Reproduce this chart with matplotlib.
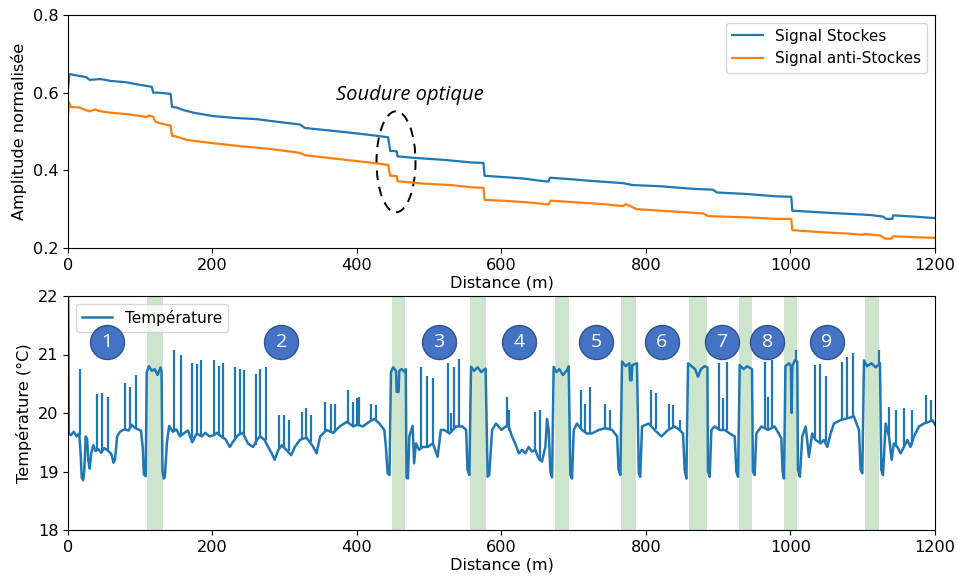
import matplotlib
matplotlib.use("Agg")
import matplotlib.pyplot as plt
from matplotlib.patches import Ellipse
import numpy as np

# ---------------- data ----------------
dist_ticks = [0, 200, 400, 600, 800, 1000, 1200]

stokes_d = [0, 2, 10, 25, 30, 45, 60, 80, 100, 116, 118, 125, 142, 144, 150, 160, 175,
            200, 230, 260, 290, 321, 328, 360, 400, 427, 443, 446, 455, 456, 480, 520,
            560, 575, 576.5, 600, 630, 650, 665, 667, 690, 730, 768, 782, 820, 860, 893,
            898, 940, 980, 1001, 1002.5, 1040, 1080, 1110, 1128, 1132, 1141, 1142, 1170, 1200]
stokes_v = [0.61, 0.648, 0.645, 0.64, 0.633, 0.635, 0.630, 0.627, 0.62, 0.615, 0.60, 0.600,
            0.597, 0.563, 0.562, 0.555, 0.548, 0.540, 0.535, 0.532, 0.525, 0.518, 0.509,
            0.503, 0.495, 0.489, 0.485, 0.450, 0.449, 0.436, 0.432, 0.427, 0.420, 0.419,
            0.386, 0.383, 0.379, 0.374, 0.371, 0.381, 0.378, 0.372, 0.367, 0.362, 0.359,
            0.353, 0.350, 0.343, 0.339, 0.333, 0.332, 0.296, 0.292, 0.288, 0.285, 0.281,
            0.275, 0.275, 0.284, 0.281, 0.277]

anti_d = [0, 1.5, 4, 15, 25, 30, 38, 42, 60, 80, 100, 109, 112, 118, 121, 130, 142, 144,
          150, 165, 200, 240, 280, 321, 328, 370, 418, 443, 446, 455, 456, 490, 530, 560,
          575, 576.5, 600, 640, 665, 668, 700, 740, 768, 772, 787, 830, 879, 886, 940,
          980, 1001, 1002.5, 1040, 1080, 1100, 1103, 1124, 1131, 1140, 1142, 1170, 1200]
anti_v = [0.543, 0.575, 0.563, 0.562, 0.555, 0.552, 0.557, 0.553, 0.548, 0.545, 0.54,
          0.537, 0.541, 0.538, 0.525, 0.52, 0.515, 0.489, 0.487, 0.478, 0.470, 0.462,
          0.455, 0.445, 0.439, 0.430, 0.42, 0.414, 0.386, 0.385, 0.372, 0.366, 0.362,
          0.356, 0.355, 0.324, 0.322, 0.317, 0.312, 0.322, 0.318, 0.313, 0.308, 0.313,
          0.300, 0.295, 0.289, 0.282, 0.279, 0.275, 0.275, 0.246, 0.241, 0.237, 0.234,
          0.236, 0.232, 0.224, 0.224, 0.230, 0.228, 0.226]

temp_d = [0, 1.2, 4, 8, 12, 15.5, 17.5, 19, 21, 22.5, 24.5, 26.5, 28, 30, 32, 35, 38, 42,
          46, 50, 55, 60, 63, 65, 68, 72, 78, 84, 88, 92, 97, 101, 103.5, 105, 107.5, 109,
          112, 116, 120, 124, 128, 129.5, 130.8, 132.5, 134, 137, 140, 145, 150, 155, 160,
          166, 172, 178, 185, 190, 196, 202,
          206, 212, 218, 224, 228, 235, 242, 249, 256, 262, 266, 272, 277, 282, 286, 291,
          296, 302, 309, 314, 321, 330, 339, 344, 349, 358, 367, 376, 386, 395, 400,
          408, 417, 424, 431, 437.8, 440, 442.4, 445, 447, 450, 454, 455, 457.5, 458.5,
          462, 466, 467.5, 468.5, 470.5, 472.4, 477, 479, 481.6, 486, 491, 498, 505, 511.6,
          516, 521, 528, 537, 546, 551, 553, 555.5, 557.8, 562, 567, 572, 578, 580.8, 583,
          587, 592.4, 600,
          606, 610, 614.5, 619, 624, 628.4, 633, 637.6, 642, 646.8, 651.4, 656, 660.7, 663,
          665.3, 667.6, 670, 672.2, 676, 680, 685, 690, 693, 695.3, 697.6, 700, 704.5,
          711.4, 718, 725, 734.5, 743.7, 753, 760, 762, 764.5, 766.8, 772, 777, 778, 780,
          781, 787.5, 790, 792, 794.5, 800,
          803.7, 812, 821.3, 830.5, 839.7, 846.6, 851.2, 853.5, 855.9, 858.2, 863, 868,
          872, 876, 881, 885, 885.8, 888.2, 890.5, 895, 902, 909, 915.8, 922.8, 925, 927.4,
          929.7, 935, 940, 946.7, 948, 950.4, 952.7, 959.7, 968.9, 978, 987.3, 989, 991,
          993, 998, 1000.5, 1001.5, 1002.5, 1006,
          1009.4, 1010.3, 1013, 1016.3, 1021, 1025.5, 1030, 1034.8, 1041.7, 1046, 1051,
          1055.5, 1060.2, 1069.4, 1078.6, 1087.8, 1094.8, 1097, 1099.4, 1101.7, 1106, 1112,
          1118, 1123.8, 1125.7, 1128, 1131.7, 1136.3, 1140, 1143, 1147.8, 1152.4, 1157,
          1161.7, 1166, 1170.9, 1177.8, 1184.7, 1191.7, 1196.3, 1200]
temp_v = [23.0, 19.65, 19.62, 19.68, 19.6, 19.65, 19.3, 18.9, 18.85, 19.0, 19.6, 19.55, 19.2,
          19.05, 19.3, 19.45, 19.35, 19.38, 19.32, 19.4, 19.36, 19.3, 19.15, 19.2, 19.6,
          19.68, 19.72, 19.7, 19.8, 19.75, 19.72, 19.7, 19.4, 18.95, 18.92, 20.7, 20.8,
          20.72, 20.75, 20.65, 20.78, 20.7, 19.0, 18.88, 18.9, 19.5, 19.78, 19.68, 19.72,
          19.6, 19.65, 19.7, 19.5, 19.65, 19.6, 19.66, 19.6, 19.62,
          19.66, 19.6, 19.55, 19.42, 19.5, 19.62, 19.66, 19.48, 19.42, 19.55, 19.6, 19.54,
          19.42, 19.31, 19.2, 19.37, 19.45, 19.37, 19.28, 19.42, 19.54, 19.58, 19.43,
          19.31, 19.6, 19.71, 19.66, 19.77, 19.85, 19.77, 19.8,
          19.77, 19.85, 19.9, 19.82, 19.71, 19.42, 18.97, 18.94, 20.7, 20.78, 20.72, 20.36,
          20.36, 20.72, 20.75, 20.7, 20.75, 18.9, 18.88, 19.6, 19.78, 19.14, 19.48, 19.37,
          19.42, 19.42, 19.48, 19.25, 19.71, 19.71, 19.65, 19.77, 19.77, 19.71, 19.03,
          18.94, 20.79, 20.72, 20.78, 20.7, 20.76, 18.91, 18.94, 19.71, 19.82, 19.71,
          19.77, 19.77, 19.6, 19.48, 19.31, 19.37, 19.31, 19.42, 19.34, 19.37, 19.22,
          19.17, 19.42, 19.9, 19.71, 19.0, 18.9, 20.79, 20.7, 20.75, 20.65, 20.72, 20.8,
          18.94, 18.88, 19.71, 19.82, 19.71, 19.65, 19.65, 19.71, 19.74, 19.71, 19.6,
          19.03, 18.94, 20.88, 20.8, 20.85, 20.56, 20.56, 20.82, 20.85, 18.97, 18.91,
          19.77, 19.8,
          19.82, 19.71, 19.6, 19.71, 19.77, 19.71, 19.65, 19.03, 18.88, 20.85, 20.8, 20.75,
          20.62, 20.75, 20.8, 20.78, 19.0, 18.91, 19.71, 19.77, 19.71, 19.71, 19.65, 19.6,
          19.0, 18.91, 20.82, 20.75, 20.8, 20.75, 19.0, 18.94, 19.65, 19.77, 19.71, 19.77,
          19.57, 19.0, 18.88, 20.8, 20.85, 20.8, 20.0, 20.8, 20.9,
          20.88, 19.03, 18.91, 19.6, 19.77, 19.25, 19.65, 19.54, 19.48, 19.54, 19.42,
          19.65, 19.82, 19.88, 19.91, 19.94, 19.71, 19.03, 18.97, 20.9, 20.8, 20.85, 20.78,
          20.85, 19.03, 18.94, 19.82, 19.6, 19.2, 19.48, 19.42, 19.31, 19.42, 19.54,
          19.42, 19.6, 19.77, 19.82, 19.85, 19.88, 19.8]

spike_d = [16.6, 39.7, 47.5, 55.5, 78.4, 85.8, 93.7, 146.3, 156, 171, 178, 184.5, 201.5,
           208.5, 215, 231, 238, 244, 260, 266, 273.5, 292, 299, 305.8, 324, 330, 336,
           355.7, 363.5, 369.5, 387, 394, 400.4, 403, 419.4, 426.3, 488.6, 496.4, 504.7,
           525.5, 530, 534.7, 541.6, 607.6, 611, 646.8, 653.8, 710.5, 716, 722, 743.7,
           750.6, 806.5, 814.3, 831.4, 837.4, 846.6, 901, 906.6, 912, 964.3, 968.9, 974.4,
           1007, 1033.4, 1040.8, 1048.6, 1071.7, 1078.6, 1086.5, 1122.4, 1136.3, 1145.5,
           1157, 1168.5, 1187, 1194]
spike_base = [19.62, 19.38, 19.33, 19.36, 19.72, 19.72, 19.74, 19.68, 19.62, 19.58, 19.65,
              19.6, 19.62, 19.6, 19.55, 19.55, 19.62, 19.62, 19.45, 19.6, 19.54, 19.4, 19.4,
              19.35, 19.55, 19.58, 19.5, 19.68, 19.68, 19.7, 19.85, 19.8, 19.8, 19.78,
              19.86, 19.88, 19.38, 19.42, 19.48, 19.68, 19.68, 19.72, 19.77, 19.77, 19.7,
              19.37, 19.2, 19.72, 19.68, 19.65, 19.74, 19.71, 19.8, 19.72, 19.71, 19.75,
              19.71, 19.72, 19.72, 19.71, 19.72, 19.71, 19.75, 20.9, 19.55, 19.48, 19.5,
              19.88, 19.91, 19.94, 20.85, 19.6, 19.45, 19.42, 19.45, 19.82, 19.85]
spike_top = [20.75, 20.32, 20.34, 20.28, 20.52, 20.45, 20.65, 21.07, 21.0, 20.85, 20.84,
             20.9, 20.9, 20.8, 20.86, 20.79, 20.76, 20.74, 20.67, 20.76, 20.78, 19.97, 19.96,
             19.88, 20.02, 20.08, 19.96, 20.19, 20.16, 20.16, 20.39, 20.19, 20.25, 20.28,
             20.16, 20.13, 20.78, 20.63, 20.6, 20.85, 20.0, 20.79, 20.93, 20.28, 20.05,
             20.02, 20.05, 20.39, 20.16, 20.45, 20.16, 20.05, 20.4, 20.34, 20.16, 20.13,
             19.88, 20.85, 20.25, 20.88, 20.88, 20.28, 20.9, 21.08, 20.82, 20.84, 20.63,
             20.88, 20.96, 21.02, 21.08, 20.1, 20.05, 20.08, 20.05, 20.3, 20.22]

band_start = [109, 448, 557, 673.5, 765.5, 859, 929, 991.5, 1102.5]
band_end = [131, 466, 578, 693, 786.5, 884.5, 947, 1009.5, 1123]

zone_labels = ["1", "2", "3", "4", "5", "6", "7", "8", "9"]
zone_d = [54, 295, 513, 624, 731, 822, 905, 968, 1050]
zone_t = 21.22

# ---------------- figure ----------------
W, H = 957, 576
fig = plt.figure(figsize=(W / 100, H / 100), dpi=100)
FS = 11.6

ax1 = fig.add_axes([68 / W, 1 - 248 / H, (935 - 68) / W, (248 - 15) / H])
ax2 = fig.add_axes([68 / W, 1 - 530 / H, (935 - 68) / W, (530 - 296) / H])

c1, c2 = "#1f77b4", "#ff7f0e"
ax1.plot(stokes_d, stokes_v, color=c1, lw=1.6, label="Signal Stockes")
ax1.plot(anti_d, anti_v, color=c2, lw=1.6, label="Signal anti-Stockes")
ax1.set_xlim(0, 1200)
ax1.set_ylim(0.2, 0.8)
ax1.set_yticks([0.2, 0.4, 0.6, 0.8])
ax1.set_xticks(dist_ticks)
ax1.set_xlabel("Distance (m)", fontsize=FS, labelpad=2)
ax1.set_ylabel("Amplitude normalisée", fontsize=FS)
ax1.tick_params(labelsize=FS)
ax1.legend(loc="upper right", fontsize=11)

ell = Ellipse((454, 0.422), width=54, height=0.26, fill=False, edgecolor="black",
              lw=1.4, linestyle=(0, (5, 3.5)))
ax1.add_patch(ell)
ax1.text(473, 0.594, "Soudure optique", ha="center", va="center", fontsize=14.5,
         style="italic", family=["Open Sans", "DejaVu Sans"])

for s, e in zip(band_start, band_end):
    ax2.axvspan(s, e, color="green", alpha=0.2, lw=0)
ax2.plot(temp_d, temp_v, color=c1, lw=1.8, label="Température")
ax2.vlines(spike_d, spike_base, spike_top, color=c1, lw=1.6)
ax2.set_xlim(0, 1200)
ax2.set_ylim(18, 22)
ax2.set_yticks([18, 19, 20, 21, 22])
ax2.set_xticks(dist_ticks)
ax2.set_xlabel("Distance (m)", fontsize=FS, labelpad=2)
ax2.set_ylabel("Température (°C)", fontsize=FS)
ax2.tick_params(labelsize=FS)
ax2.legend(loc="upper left", fontsize=11)

ax2.scatter(zone_d, [zone_t] * len(zone_d), s=600, facecolor="#4472C4",
            edgecolor="#2F528F", lw=1.0, zorder=7)
for lab, d in zip(zone_labels, zone_d):
    ax2.text(d, zone_t, lab, ha="center", va="center", color="white", fontsize=14,
             family=["Open Sans", "DejaVu Sans"], zorder=8)

fig.savefig("out.png", dpi=100)
